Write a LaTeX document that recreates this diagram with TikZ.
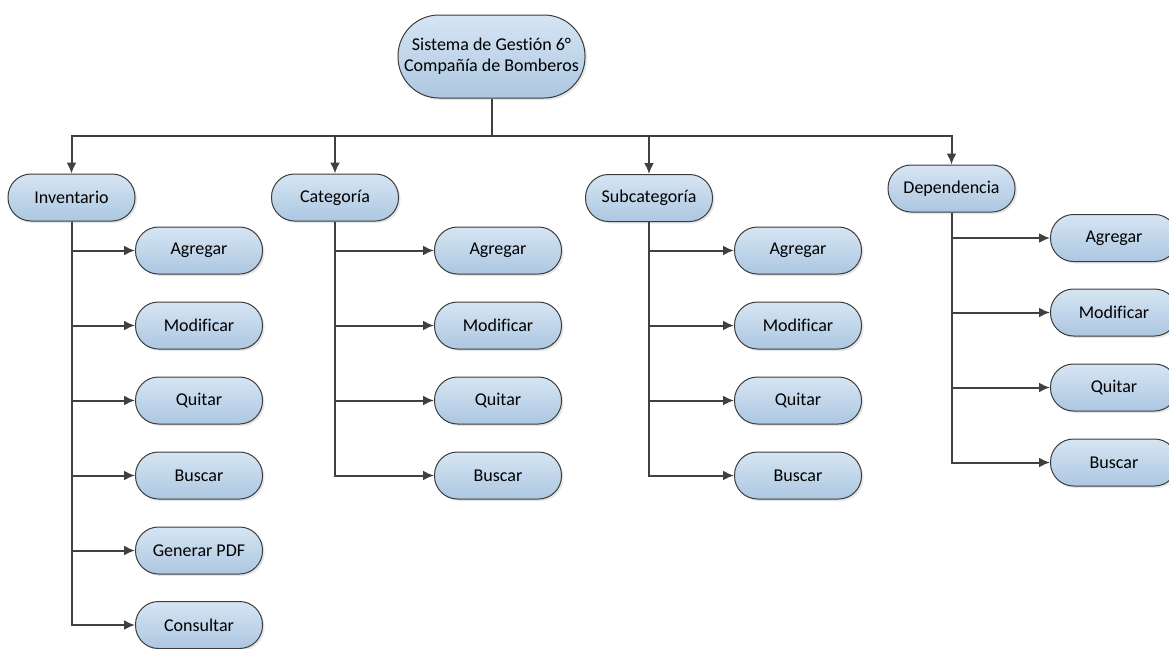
\documentclass[tikz,border=0pt]{standalone}
\usepackage{fontspec}
\setmainfont[Ligatures=NoCommon]{Carlito}
\usepackage{tikz}
\usetikzlibrary{arrows.meta}
\usetikzlibrary{shadows}
\usetikzlibrary{positioning}

\definecolor{boxtop}{RGB}{214,229,243}
\definecolor{boxbot}{RGB}{172,199,225}
\definecolor{boxline}{RGB}{60,60,60}
\definecolor{wirecol}{RGB}{64,64,64}

\begin{document}
\begin{tikzpicture}
		[x=1pt,y=-1pt,
		every node/.style={rectangle,rounded corners=23pt,draw=boxline,line width=1pt,
			top color=boxtop,bottom color=boxbot,minimum width=127pt,minimum height=47pt,
			font=\fontsize{18}{21}\selectfont,drop shadow={opacity=0.2,shadow xshift=2pt,shadow yshift=-2pt}},
		wire/.style={draw=wirecol,line width=2pt,-{Latex[length=11pt,width=10pt]}}]
		\useasboundingbox (0,0) rectangle (1169,648);
		\node[rounded corners=41pt,minimum width=187pt,minimum height=83pt,align=center] (root) at (491.5,56.5) {Sistema de Gestión 6°\\Compañía de Bomberos};
		\node (inv) at (71.5,197.5) {Inventario};
		\node (cat) at (335,197.5) {Categoría};
		\node (sub) at (649,198) {Subcategoría};
		\node (dep) at (951.5,188.5) {Dependencia};
		
		% opciones de cada modulo
		\node (inv1) at (199,250.5) {Agregar};
		\node (inv2) at (199,325.5) {Modificar};
		\node (inv3) at (199,400.5) {Quitar};
		\node (inv4) at (199,475.5) {Buscar};
		\node (inv5) at (199,550.5) {Generar PDF};
		\node (inv6) at (199,625) {Consultar};
		\node (cat1) at (498,250.5) {Agregar};
		\node (cat2) at (498,325.5) {Modificar};
		\node (cat3) at (498,400.5) {Quitar};
		\node (cat4) at (498,475.5) {Buscar};
		\node (sub1) at (798,250.5) {Agregar};
		\node (sub2) at (798,325.5) {Modificar};
		\node (sub3) at (798,400.5) {Quitar};
		\node (sub4) at (798,475.5) {Buscar};
		\node (dep1) at (1114,238) {Agregar};
		\node (dep2) at (1114,312.5) {Modificar};
		\node (dep3) at (1114,387.5) {Quitar};
		\node (dep4) at (1114,462.5) {Buscar};
		
		\coordinate (bus) at (491.5,136);
		\draw[wire,-] (root) -- (bus);
		\foreach \to in {inv,cat,sub,dep}
		\draw[wire] (bus) -| (\to.north);
		
		\foreach \from/\to in 
		{inv/inv1, inv/inv2, inv/inv3, inv/inv4, inv/inv5, inv/inv6,
		 cat/cat1, cat/cat2, cat/cat3, cat/cat4,
		 sub/sub1, sub/sub2, sub/sub3, sub/sub4,
		 dep/dep1, dep/dep2, dep/dep3, dep/dep4}
		\draw[wire] (\from.south) |- (\to.west);
		\end{tikzpicture}
\end{document}
